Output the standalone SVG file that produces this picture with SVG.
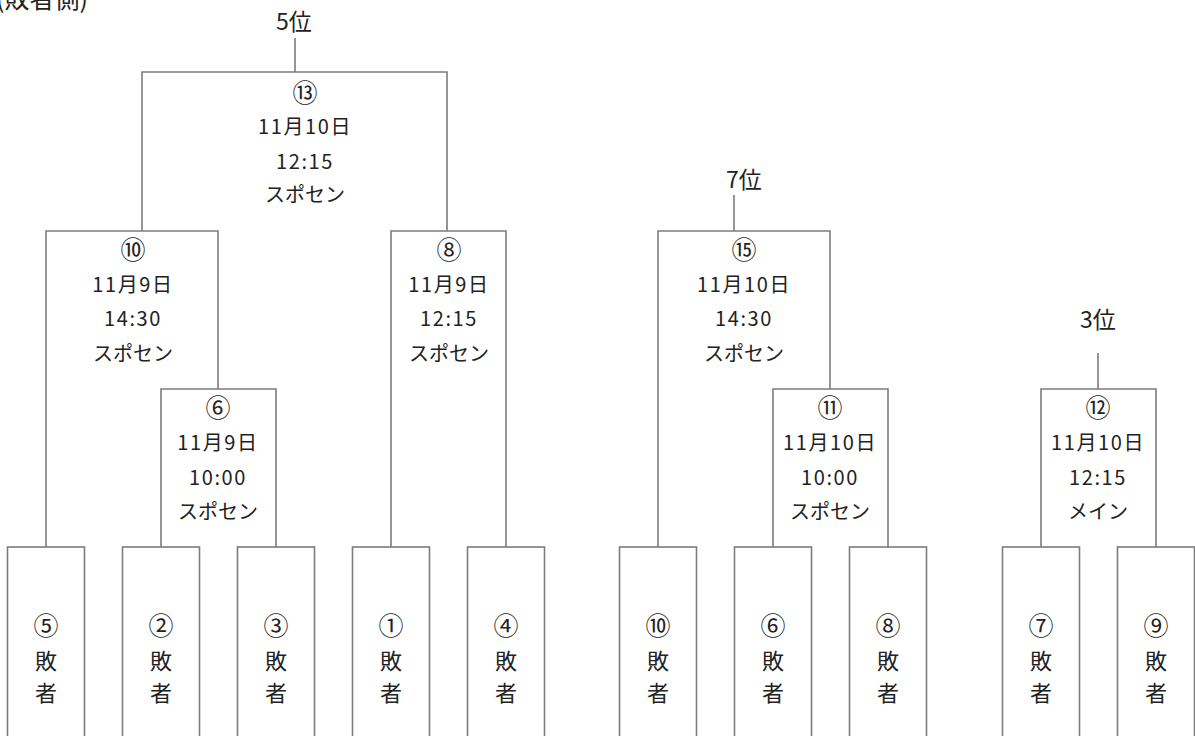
<svg xmlns="http://www.w3.org/2000/svg" width="1195" height="736" viewBox="0 0 1195 736">
<style>
.ln{fill:none;stroke:#7c7c7c;stroke-width:1.6}
.bx{fill:#fff;stroke:#7c7c7c;stroke-width:1.6}
text{font-family:"Noto Sans CJK JP","Noto Sans",sans-serif;fill:#222;text-anchor:middle}
.m{font-size:20px}
.d{font-size:20px;letter-spacing:1.6px}
.c{font-size:25px}
.r{font-size:23px}
.t{font-size:22px}
.tc{font-size:25px}
.h{font-size:25px;text-anchor:start}
</style>
<rect width="1195" height="736" fill="#fff"/>
<text class="h" x="-4" y="8">(敗者側)</text>

<g id="connectors">
<path class="ln" d="M295,38 V72"/>
<path class="ln" d="M734,195 V231"/>
<path class="ln" d="M1098,353 V389"/>
</g>

<g id="rank5"><text class="r" x="294" y="30">5位</text></g>
<g id="rank7"><text class="r" x="744" y="188">7位</text></g>
<g id="rank3"><text class="r" x="1098" y="328">3位</text></g>

<g id="m13">
<path class="ln" d="M142,231 V72 H447 V231"/>
<text class="c" x="305" y="102">⑬</text>
<text class="d" x="305" y="134">11月10日</text>
<text class="d" x="305" y="169">12:15</text>
<text class="m" x="305" y="202">スポセン</text>
</g>

<g id="m10">
<path class="ln" d="M46,547 V231 H218 V389"/>
<text class="c" x="133" y="259">⑩</text>
<text class="d" x="133" y="292">11月9日</text>
<text class="d" x="133" y="326">14:30</text>
<text class="m" x="133" y="361">スポセン</text>
</g>

<g id="m6">
<path class="ln" d="M161,547 V389 H276 V547"/>
<text class="c" x="218" y="417">⑥</text>
<text class="d" x="218" y="450">11月9日</text>
<text class="d" x="218" y="485">10:00</text>
<text class="m" x="218" y="519">スポセン</text>
</g>

<g id="m8">
<path class="ln" d="M391,547 V231 H506 V547"/>
<text class="c" x="449" y="259">⑧</text>
<text class="d" x="449" y="292">11月9日</text>
<text class="d" x="449" y="326">12:15</text>
<text class="m" x="449" y="361">スポセン</text>
</g>

<g id="m15">
<path class="ln" d="M658,547 V231 H830 V389"/>
<text class="c" x="744" y="259">⑮</text>
<text class="d" x="744" y="292">11月10日</text>
<text class="d" x="744" y="326">14:30</text>
<text class="m" x="744" y="361">スポセン</text>
</g>

<g id="m11">
<path class="ln" d="M773,547 V389 H888 V547"/>
<text class="c" x="830" y="417">⑪</text>
<text class="d" x="830" y="450">11月10日</text>
<text class="d" x="830" y="485">10:00</text>
<text class="m" x="830" y="519">スポセン</text>
</g>

<g id="m12">
<path class="ln" d="M1041,547 V389 H1156 V547"/>
<text class="c" x="1098" y="417">⑫</text>
<text class="d" x="1098" y="450">11月10日</text>
<text class="d" x="1098" y="485">12:15</text>
<text class="m" x="1098" y="519">メイン</text>
</g>

<g id="t5"><rect class="bx" x="7.5" y="547" width="77" height="200"/><text class="tc" x="46" y="635">⑤</text><text class="t" x="46" y="669">敗</text><text class="t" x="46" y="701">者</text></g>
<g id="t2"><rect class="bx" x="122.5" y="547" width="77" height="200"/><text class="tc" x="161" y="635">②</text><text class="t" x="161" y="669">敗</text><text class="t" x="161" y="701">者</text></g>
<g id="t3"><rect class="bx" x="237.5" y="547" width="77" height="200"/><text class="tc" x="276" y="635">③</text><text class="t" x="276" y="669">敗</text><text class="t" x="276" y="701">者</text></g>
<g id="t1"><rect class="bx" x="352.5" y="547" width="77" height="200"/><text class="tc" x="391" y="635">①</text><text class="t" x="391" y="669">敗</text><text class="t" x="391" y="701">者</text></g>
<g id="t4"><rect class="bx" x="467.5" y="547" width="77" height="200"/><text class="tc" x="506" y="635">④</text><text class="t" x="506" y="669">敗</text><text class="t" x="506" y="701">者</text></g>
<g id="t10"><rect class="bx" x="619.5" y="547" width="77" height="200"/><text class="tc" x="658" y="635">⑩</text><text class="t" x="658" y="669">敗</text><text class="t" x="658" y="701">者</text></g>
<g id="t6"><rect class="bx" x="734.5" y="547" width="77" height="200"/><text class="tc" x="773" y="635">⑥</text><text class="t" x="773" y="669">敗</text><text class="t" x="773" y="701">者</text></g>
<g id="t8"><rect class="bx" x="849.5" y="547" width="77" height="200"/><text class="tc" x="888" y="635">⑧</text><text class="t" x="888" y="669">敗</text><text class="t" x="888" y="701">者</text></g>
<g id="t7"><rect class="bx" x="1002.5" y="547" width="77" height="200"/><text class="tc" x="1041" y="635">⑦</text><text class="t" x="1041" y="669">敗</text><text class="t" x="1041" y="701">者</text></g>
<g id="t9"><rect class="bx" x="1117.5" y="547" width="77" height="200"/><text class="tc" x="1156" y="635">⑨</text><text class="t" x="1156" y="669">敗</text><text class="t" x="1156" y="701">者</text></g>
</svg>
